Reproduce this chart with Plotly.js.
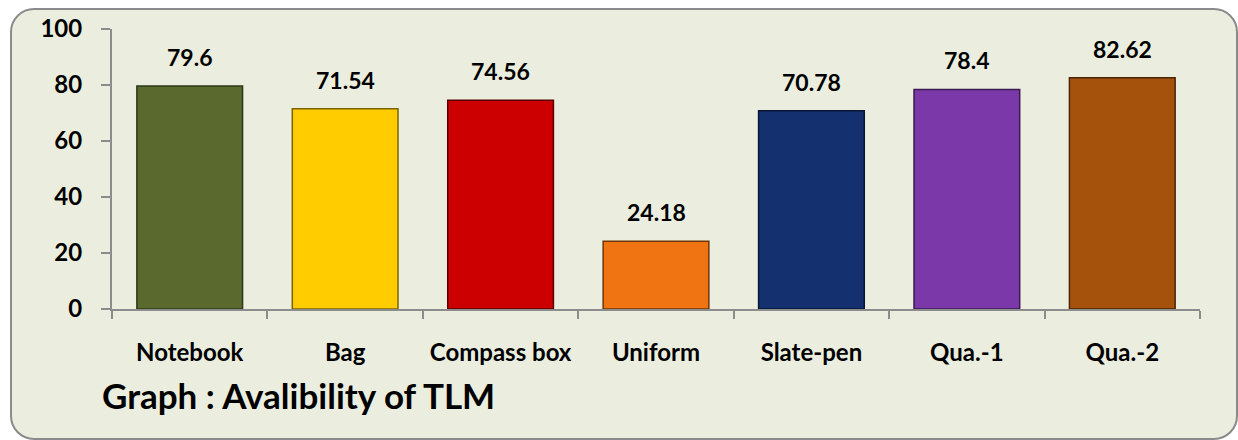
<!DOCTYPE html>
<html>
<head>
<meta charset="utf-8">
<script src="https://cdn.plot.ly/plotly-3.0.1.min.js"></script>
<style>
  html, body { margin: 0; padding: 0; background: #ffffff; width: 1238px; height: 440px; overflow: hidden; }
  #frame { position: absolute; left: 10px; top: 8px; width: 1224px; height: 428px;
           border: 2px solid #8a8a8a; border-radius: 24px; background: #EBEEDF; }
  #chart { position: absolute; left: 0; top: 0; width: 1238px; height: 440px; }
</style>
</head>
<body>
<div id="frame"></div>
<div id="chart"></div>
<script>
const categories = ["Notebook", "Bag", "Compass box", "Uniform", "Slate-pen", "Qua.-1", "Qua.-2"];
const values = [79.6, 71.54, 74.56, 24.18, 70.78, 78.4, 82.62];
const valueLabels = ["79.6", "71.54", "74.56", "24.18", "70.78", "78.4", "82.62"];
const barColors = ["#5A6A2E", "#FFCC00", "#CC0000", "#F07412", "#14306E", "#7A38A8", "#A5520D"];
const barEdgeColors = ["#2E3818", "#7A6200", "#5A0000", "#6E3608", "#081634", "#3A1A50", "#4A2406"];
const yTicks = [0, 20, 40, 60, 80, 100];
const chartTitle = "Graph : Avalibility of TLM";

const FONT = "Lato, 'Open Sans', 'DejaVu Sans', sans-serif";

const trace = {
  type: "bar",
  x: categories,
  y: values,
  marker: { color: barColors, line: { color: barEdgeColors, width: 1.5 } },
  hoverinfo: "x+y"
};

const annotations = categories.map((c, i) => ({
  x: c, y: values[i], xref: "x", yref: "y",
  text: "<b>" + valueLabels[i] + "</b>",
  showarrow: false, yanchor: "bottom", yshift: 13,
  font: { family: FONT, size: 23, color: "#000000" }
}));

const layout = {
  width: 1238, height: 440,
  margin: { l: 112, r: 38, t: 29, b: 131 },
  paper_bgcolor: "rgba(0,0,0,0)",
  plot_bgcolor: "rgba(0,0,0,0)",
  bargap: 0.32,
  showlegend: false,
  font: { family: FONT, color: "#000000" },
  title: {
    text: "<b>" + chartTitle + "</b>",
    xref: "container", yref: "container",
    x: 0.0824, xanchor: "left",
    y: 0.098, yanchor: "middle",
    font: { family: FONT, size: 35, color: "#000000" }
  },
  xaxis: {
    type: "category",
    showline: true, linecolor: "#8c8c8c", linewidth: 2,
    ticks: "outside", tickson: "boundaries", ticklen: 8, tickcolor: "#8c8c8c", tickwidth: 2,
    tickfont: { family: FONT, size: 24, color: "#000000" },
    ticklabelstandoff: 21,
    showgrid: false, zeroline: false,
    tickprefix: "<b>", ticksuffix: "</b>"
  },
  yaxis: {
    range: [0, 100],
    tickvals: yTicks,
    ticktext: yTicks.map(v => "<b>" + v + "</b>"),
    showline: true, linecolor: "#8c8c8c", linewidth: 2,
    ticks: "outside", ticklen: 9, tickcolor: "#8c8c8c", tickwidth: 2,
    tickfont: { family: FONT, size: 24, color: "#000000" },
    ticklabelstandoff: 14,
    showgrid: false, zeroline: false
  },
  annotations: annotations
};

Plotly.newPlot("chart", [trace], layout, { displayModeBar: false, staticPlot: true });
</script>
</body>
</html>
